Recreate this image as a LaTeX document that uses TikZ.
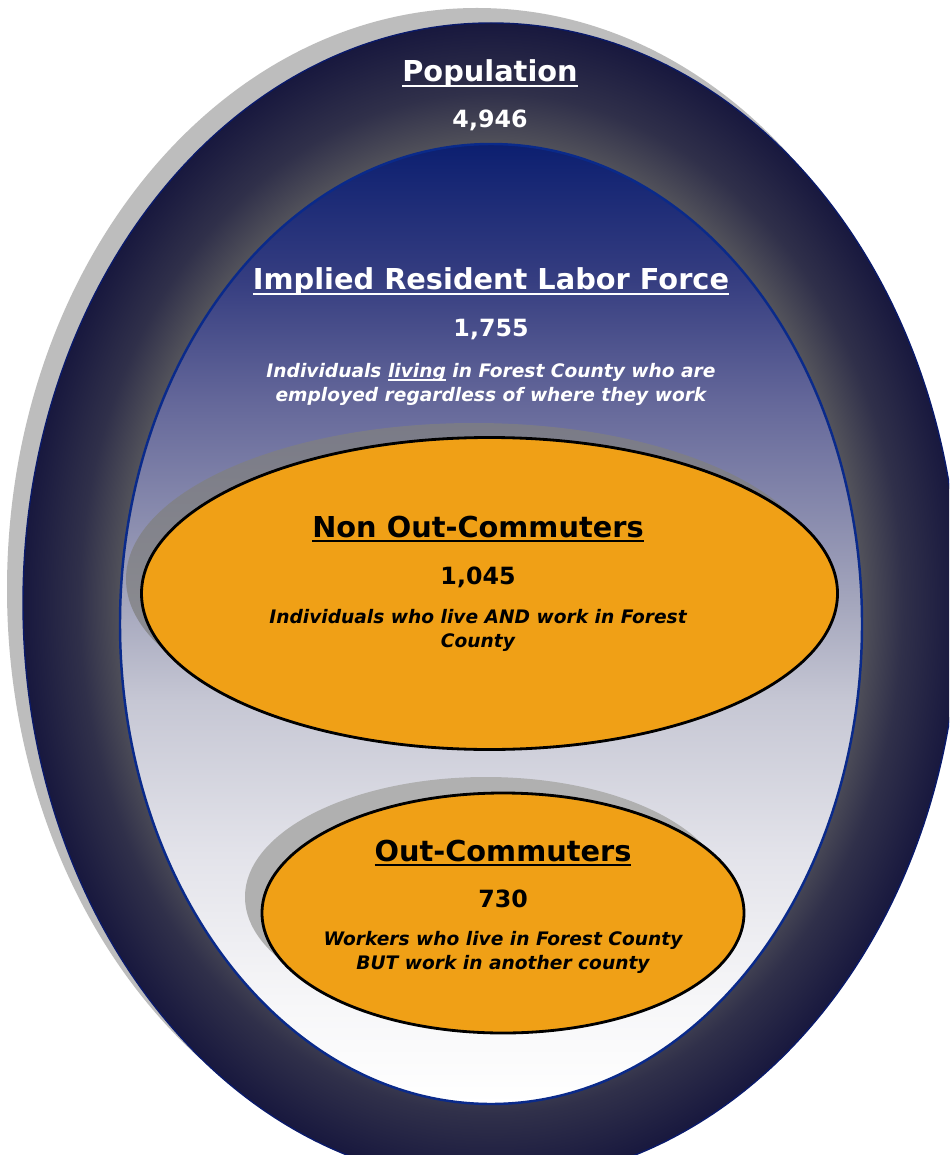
\documentclass[tikz,border=0pt]{standalone}
\usepackage{fontspec}
\setmainfont{DejaVu Sans}
\usetikzlibrary{positioning}
\definecolor{ringdark}{HTML}{18183E}
\definecolor{ringmid}{HTML}{30304A}
\definecolor{ringgrey}{HTML}{55555C}
\definecolor{rimblue}{HTML}{0A1A6A}
\definecolor{laborline}{HTML}{0A2A8A}
\definecolor{labtop}{HTML}{0C1F70}
\definecolor{labA}{HTML}{353D80}
\definecolor{labB}{HTML}{65689A}
\definecolor{labC}{HTML}{A5A7BD}
\definecolor{labD}{HTML}{C6C7D4}
\definecolor{labE}{HTML}{E3E3EA}
\definecolor{labF}{HTML}{F6F6F8}
\definecolor{commute}{HTML}{F0A016}
\definecolor{popshadow}{HTML}{BDBDBD}
\definecolor{outshadow}{HTML}{B0B0B0}
\pgfdeclareradialshading{popring}{\pgfpoint{0bp}{0bp}}{color(0bp)=(ringgrey); color(19.5bp)=(ringgrey); color(22bp)=(ringmid); color(25bp)=(ringdark); color(50bp)=(ringdark)}
\pgfdeclareverticalshading{laborfill}{100bp}{color(0bp)=(white); color(25bp)=(white); color(30.5bp)=(labF); color(38bp)=(labE); color(46bp)=(labD); color(51bp)=(labC); color(61.5bp)=(labB); color(68bp)=(labA); color(75bp)=(labtop); color(100bp)=(labtop)}
% underline with a heavier rule than \underline
\def\undl#1{\setbox0\hbox{#1}\rlap{\rule[-0.17em]{\wd0}{0.08em}}\box0\relax}

\begin{document}
\begin{tikzpicture}[x=0.02cm,y=-0.02cm,
	title/.style={font=\fontsize{16.4}{20}\selectfont\bfseries,inner sep=0pt,anchor=base},
	count/.style={font=\fontsize{13.5}{16}\selectfont\bfseries,inner sep=0pt,anchor=base},
	blurb/.style={font=\fontsize{10.6}{13.2}\selectfont\bfseries\itshape,align=center,inner sep=0pt,anchor=base},
	commuter/.style={fill=commute,draw=black,line width=1.6pt}]
	\useasboundingbox (0,0) rectangle (949,1155);
	\fill[white] (0,0) rectangle (949,1155);
	\clip (0,0) rectangle (949,1155);
	% population
	\fill[popshadow] (477,589) ellipse [x radius=470, y radius=581];
	\path[shading=popring,draw=rimblue,line width=0.8pt] (491,603) ellipse [x radius=468, y radius=580];
	% labor force
	\path[shading=laborfill,draw=laborline,line width=1.4pt] (491,624) ellipse [x radius=371, y radius=480];
	% commuters with their shadows
	\fill[gray,opacity=0.75] (474,579) ellipse [x radius=348, y radius=156];
	\path[commuter] (489.5,593.5) ellipse [x radius=348, y radius=156];
	\fill[outshadow] (486,897) ellipse [x radius=241, y radius=120];
	\path[commuter] (503,913) ellipse [x radius=241, y radius=120];

	\node[title,white] (pop) at (490,82) {\undl{Population}};
	\node[count,white] (popnum) at (490,128) {4,946};
	\node[title,white] (labor) at (491,290) {\undl{Implied Resident Labor Force}};
	\node[count,white] (labornum) at (491,337) {1,755};
	\node[blurb,white] (labordesc) at (491,401) {Individuals \undl{living} in Forest County who are\\employed regardless of where they work};
	\node[title] (nonout) at (478,537) {\undl{Non Out-Commuters}};
	\node[count] (nonoutnum) at (478,584) {1,045};
	\node[blurb] (nonoutdesc) at (478,647) {Individuals who live AND work in Forest\\County};
	\node[title] (out) at (503,861) {\undl{Out-Commuters}};
	\node[count] (outnum) at (503,907) {730};
	\node[blurb] (outdesc) at (503,969) {Workers who live in Forest County\\BUT work in another county};
\end{tikzpicture}
\end{document}
